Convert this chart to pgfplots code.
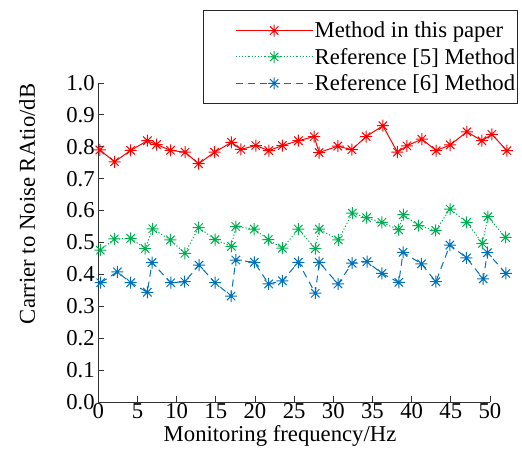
\documentclass[border=0pt]{standalone}
\usepackage{fontspec}
\setmainfont{Liberation Serif}
\usepackage{pgfplots}
\pgfplotsset{compat=1.18}
\definecolor{cred}{RGB}{255,0,0}
\definecolor{cgreen}{RGB}{0,176,80}
\definecolor{cblue}{RGB}{0,114,189}
\pgfdeclareplotmark{mstar}{%
  \pgfpathmoveto{\pgfqpoint{-\pgfplotmarksize}{0pt}}%
  \pgfpathlineto{\pgfqpoint{\pgfplotmarksize}{0pt}}%
  \pgfpathmoveto{\pgfqpoint{0pt}{-\pgfplotmarksize}}%
  \pgfpathlineto{\pgfqpoint{0pt}{\pgfplotmarksize}}%
  \pgfpathmoveto{\pgfqpoint{-0.7\pgfplotmarksize}{-0.7\pgfplotmarksize}}%
  \pgfpathlineto{\pgfqpoint{0.7\pgfplotmarksize}{0.7\pgfplotmarksize}}%
  \pgfpathmoveto{\pgfqpoint{-0.7\pgfplotmarksize}{0.7\pgfplotmarksize}}%
  \pgfpathlineto{\pgfqpoint{0.7\pgfplotmarksize}{-0.7\pgfplotmarksize}}%
  \pgfusepathqstroke}
\newcommand{\bigfont}{\fontsize{22.7}{27}\selectfont}
\begin{document}
\begin{tikzpicture}
\useasboundingbox (-98.3pt,-48pt) rectangle (423.7pt,402pt);
\begin{axis}[
  scale only axis,
  width=391.7pt, height=319pt,
  xmin=0, xmax=50, ymin=0, ymax=1,
  clip=false,
  axis x line=bottom, axis y line=left,
  axis line style={-, black!80, line width=0.8pt},
  tick style={black!80, line width=0.8pt},
  tick align=inside,
  major tick length=6pt,
  xtick={0,5,10,15,20,25,30,35,40,45,50},
  xticklabels={0,5,10,15,20,25,30,35,40,45,50},
  ytick={0,0.1,0.2,0.3,0.4,0.5,0.6,0.7,0.8,0.9,1.0},
  yticklabels={0.0,0.1,0.2,0.3,0.4,0.5,0.6,0.7,0.8,0.9,1.0},
  tick label style={font=\bigfont},
  xticklabel style={yshift=2pt},
  xlabel={Monitoring frequency/Hz},
  ylabel={Carrier to Noise RAtio/dB},
  label style={font=\bigfont},
  xlabel style={at={(axis description cs:0.464,-0.105)}, anchor=center},
  ylabel style={at={(axis description cs:-0.182,0.621)}, anchor=center},
  legend style={at={(1.0715,1.2288)}, anchor=north east, draw=black!85, line width=0.8pt,
    font=\bigfont, inner xsep=1pt, inner ysep=10pt, row sep=6pt,
    nodes={inner sep=1.5pt}},
  legend cell align=left,
  legend image code/.code={%
    \path (-31pt,0pt);
    \draw[mark repeat=2,mark phase=2] plot coordinates {(0pt,0pt) (38.5pt,0pt) (77pt,0pt)};},
]
\addplot[color=cred, line width=1pt, solid, mark=mstar, mark size=6pt, mark options={solid}] coordinates {
(0.2,0.790) (2.07,0.753) (4.14,0.789) (6.26,0.819) (7.43,0.807) (9.22,0.789)
(11.07,0.783) (12.8,0.747) (14.84,0.783) (17.0,0.814) (18.2,0.792) (20.1,0.804)
(21.76,0.788) (23.5,0.804) (25.54,0.819) (27.55,0.832) (28.19,0.782) (30.57,0.802)
(32.36,0.791) (34.19,0.832) (36.32,0.866) (38.19,0.783) (39.39,0.803) (41.3,0.824)
(43.13,0.788) (44.92,0.806) (47.05,0.847) (48.97,0.819) (50.24,0.839) (52.16,0.788)
};
\addlegendentry{Method in this paper}
\addplot[color=cgreen, line width=1pt, dash pattern=on 1.2pt off 2pt, mark=mstar, mark size=6pt, mark options={solid}] coordinates {
(0.26,0.476) (2.04,0.511) (4.14,0.513) (5.99,0.481) (6.95,0.543) (9.21,0.508)
(11.05,0.466) (12.82,0.547) (14.9,0.509) (17.0,0.488) (17.55,0.550) (19.9,0.542)
(21.7,0.509) (23.5,0.482) (25.54,0.542) (27.7,0.481) (28.2,0.542) (30.64,0.508)
(32.43,0.592) (34.24,0.578) (36.2,0.563) (38.34,0.540) (38.94,0.587) (40.87,0.553)
(43.07,0.538) (44.9,0.605) (47.03,0.563) (49.04,0.497) (49.74,0.581) (51.98,0.516)
};
\addlegendentry{Reference [5] Method}
\addplot[color=cblue, line width=1pt, dash pattern=on 7pt off 5pt, mark=mstar, mark size=6pt, mark options={solid}] coordinates {
(0.31,0.374) (2.43,0.408) (4.14,0.374) (6.26,0.344) (6.86,0.437) (9.25,0.374)
(11.03,0.377) (12.86,0.429) (14.9,0.374) (16.95,0.332) (17.55,0.445) (19.92,0.438)
(21.75,0.370) (23.5,0.380) (25.54,0.438) (27.7,0.341) (28.2,0.438) (30.6,0.370)
(32.4,0.435) (34.3,0.440) (36.2,0.403) (38.36,0.375) (38.9,0.469) (41.25,0.433)
(43.09,0.377) (44.88,0.492) (47.0,0.452) (49.13,0.386) (49.68,0.468) (52.03,0.403)
};
\addlegendentry{Reference [6] Method}
\end{axis}
\end{tikzpicture}
\end{document}
